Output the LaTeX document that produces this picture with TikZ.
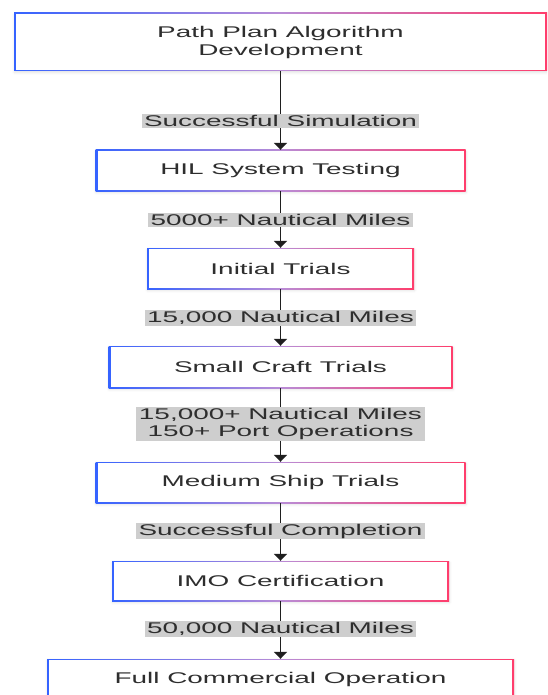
\documentclass[tikz,border=0pt]{standalone}
\usepackage{fontspec}
\usepackage{graphicx}
\setmainfont{Liberation Sans}
\usetikzlibrary{arrows.meta,shadows.blur}

\definecolor{edgeblue}{HTML}{3563FF}
\definecolor{edgemid}{HTML}{B98CD6}
\definecolor{edgepink}{HTML}{FF3D6C}
\definecolor{inktext}{HTML}{2E2E2E}
\definecolor{labelbg}{HTML}{CECECE}
\definecolor{linkcol}{HTML}{1F1F1F}

% widened sans text, as set in the chart
\newcommand\widetxt[1]{\scalebox{1.8}[1]{#1}}

\tikzset{
  stage/.style={
    shape=rectangle, inner sep=0pt, minimum height=41pt,
    left color=edgeblue, right color=edgepink, middle color=edgemid,
    blur shadow={shadow xshift=0.5pt, shadow yshift=-1.5pt,
                 shadow opacity=12, shadow blur radius=2.5pt},
    path picture={\fill[white]
      ([xshift=2pt,yshift=1pt]path picture bounding box.south west) rectangle
      ([xshift=-2pt,yshift=-1pt]path picture bounding box.north east);},
    text=inktext, align=center,
    font=\fontsize{15.5}{18}\selectfont
  },
  steplabel/.style={
    fill=labelbg, text=inktext, inner xsep=2.5pt, inner ysep=1pt,
    align=center, font=\fontsize{15.5}{17}\selectfont
  },
  link/.style={draw=linkcol, line width=1.8pt,
    -{Triangle[width=13pt,length=7pt]}}
}

\begin{document}
\begin{tikzpicture}[x=1pt,y=-1pt]
\useasboundingbox (0,0) rectangle (547,695);
\clip (0,0) rectangle (547,695);

% stages
\node[stage, minimum width=533pt, minimum height=58pt] (dev) at (280.5,42)
  {\widetxt{Path Plan Algorithm}\\\widetxt{Development}};
\node[stage, minimum width=370pt] (hil) at (280.5,170.5) {\widetxt{HIL System Testing}};
\node[stage, minimum width=267pt] (init) at (280.5,268.5) {\widetxt{Initial Trials}};
\node[stage, minimum width=344pt, minimum height=42pt] (small) at (280.5,367) {\widetxt{Small Craft Trials}};
\node[stage, minimum width=370pt] (medium) at (280.5,482.5) {\widetxt{Medium Ship Trials}};
\node[stage, minimum width=337pt, minimum height=40pt] (imo) at (280.5,581) {\widetxt{IMO Certification}};
\node[stage, minimum width=467pt] (full) at (280.5,679.5) {\widetxt{Full Commercial Operation}};

% transitions
\draw[link] (dev.south) -- node[steplabel, pos=0.633] {\widetxt{Successful Simulation}} (hil.north);
\draw[link] (hil.south) -- node[steplabel, pos=0.509] {\widetxt{5000+ Nautical Miles}} (init.north);
\draw[link] (init.south) -- node[steplabel, pos=0.509] {\widetxt{15,000 Nautical Miles}} (small.north);
\draw[link] (small.south) -- node[steplabel, pos=0.486]
  {\widetxt{15,000+ Nautical Miles}\\\widetxt{150+ Port Operations}} (medium.north);
\draw[link] (medium.south) -- node[steplabel, pos=0.483] {\widetxt{Successful Completion}} (imo.north);
\draw[link] (imo.south) -- node[steplabel, pos=0.483] {\widetxt{50,000 Nautical Miles}} (full.north);
\end{tikzpicture}
\end{document}
